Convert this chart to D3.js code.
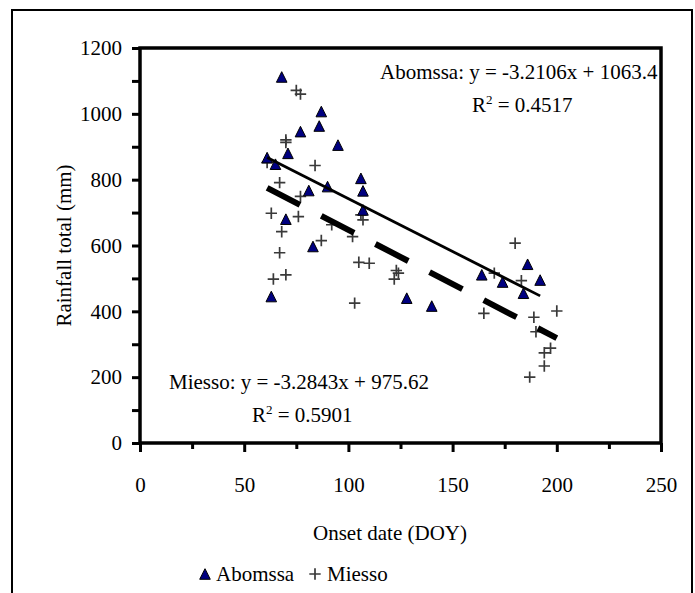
<!DOCTYPE html>
<html>
<head>
<meta charset="utf-8">
<script src="https://cdn.jsdelivr.net/npm/d3@7"></script>
<style>
  body { margin: 0; background: #fff; }
  svg { display: block; }
  text { font-family: "Liberation Serif", "Times New Roman", serif; fill: #000; }
</style>
</head>
<body>
<svg id="chart" width="695" height="593"></svg>
<script>
// Onset date (day of year) vs. seasonal rainfall total, two stations
const abomssaDoy  = [68, 87, 86, 77, 95, 71, 61, 65, 106, 90, 81, 107, 107, 70, 83, 63, 128, 140, 164, 186, 174, 184, 192];
const abomssaRain = [1112, 1007, 963, 946, 905, 880, 867, 847, 804, 779, 767, 766, 708, 680, 597, 445, 440, 416, 511, 543, 489, 455, 495];

const miessoDoy  = [75, 77, 70, 70, 61, 84, 67, 77, 63, 76, 68, 67, 87, 64, 70, 106, 107, 92, 102, 105, 110, 123, 124, 122, 103, 170, 165, 180, 183, 189, 200, 190, 197, 194, 194, 187];
const miessoRain = [1071, 1060, 921, 913, 852, 843, 791, 749, 698, 688, 642, 578, 615, 498, 511, 693, 678, 663, 627, 549, 546, 524, 516, 498, 425, 516, 394, 607, 493, 382, 401, 338, 288, 274, 234, 200];

// Linear fits (slope, intercept, R²)
const abomssaFit = [-3.2106, 1063.4, 0.4517];
const miessoFit  = [-3.2843, 975.62, 0.5901];

const xTickValues = [0, 25, 50, 75, 100, 125, 150, 175, 200, 225, 250];
const yTickValues = [0, 100, 200, 300, 400, 500, 600, 700, 800, 900, 1000, 1100, 1200];

const svg = d3.select("#chart");
const x = d3.scaleLinear().domain([0, 250]).range([140, 661]);
const y = d3.scaleLinear().domain([0, 1200]).range([443, 48]);

// chart-area border
svg.append("rect")
  .attr("x", 12).attr("y", 10).attr("width", 680).attr("height", 640)
  .attr("fill", "none").attr("stroke", "#000").attr("stroke-width", 2);

// x axis
const gx = svg.append("g").attr("transform", `translate(0,${y(0)})`)
  .call(d3.axisBottom(x).tickValues(xTickValues)
    .tickFormat(d => d % 50 === 0 ? d : "")
    .tickSize(9).tickPadding(25));
gx.select(".domain").remove();
gx.selectAll(".tick line").attr("stroke-width", 3)
  .attr("y2", d => d % 50 === 0 ? 9 : 6);
gx.selectAll(".tick text").style("font-size", "21px");

// y axis
const gy = svg.append("g").attr("transform", `translate(${x(0)},0)`)
  .call(d3.axisLeft(y).tickValues(yTickValues)
    .tickFormat(d => d % 200 === 0 ? d : "")
    .tickSize(8).tickPadding(10));
gy.select(".domain").remove();
gy.selectAll(".tick line").attr("stroke-width", 3);
gy.selectAll(".tick text").style("font-size", "21px");

// plot frame
svg.append("rect")
  .attr("x", x(0)).attr("y", y(1200))
  .attr("width", x(250) - x(0)).attr("height", y(0) - y(1200))
  .attr("fill", "none").attr("stroke", "#000").attr("stroke-width", 3.5);

// axis titles
svg.append("text")
  .attr("x", 390).attr("y", 533)
  .attr("text-anchor", "middle").attr("dominant-baseline", "central")
  .style("font-size", "21px").text("Onset date (DOY)");

svg.append("text")
  .attr("transform", `translate(64,${(y(0) + y(1200)) / 2}) rotate(-90)`)
  .attr("text-anchor", "middle").attr("dominant-baseline", "central")
  .style("font-size", "21px").text("Rainfall total (mm)");

// marker shapes
const triangleType = {
  draw(ctx, size) {
    const r = Math.sqrt(size) / 2;
    ctx.moveTo(0, -r); ctx.lineTo(r, r); ctx.lineTo(-r, r); ctx.closePath();
  }
};
const plusType = {
  draw(ctx, size) {
    const r = Math.sqrt(size) / 2;
    ctx.moveTo(-r, 0); ctx.lineTo(r, 0); ctx.moveTo(0, -r); ctx.lineTo(0, r);
  }
};
const triPath = d3.symbol().type(triangleType).size(112)();
const plusPath = d3.symbol().type(plusType).size(130)();

// trend lines over each station's observed range
function fitLine(doy, fit) {
  const [x0, x1] = d3.extent(doy);
  return [[x0, fit[0] * x0 + fit[1]], [x1, fit[0] * x1 + fit[1]]];
}
const line = d3.line().x(d => x(d[0])).y(d => y(d[1]));

// Miesso points
svg.append("g").selectAll("path")
  .data(miessoDoy.map((d, i) => [d, miessoRain[i]]))
  .join("path")
  .attr("d", plusPath)
  .attr("transform", d => `translate(${x(d[0])},${y(d[1])})`)
  .attr("fill", "none").attr("stroke", "#3a3a3a").attr("stroke-width", 1.7);

// Abomssa points
svg.append("g").selectAll("path")
  .data(abomssaDoy.map((d, i) => [d, abomssaRain[i]]))
  .join("path")
  .attr("d", triPath)
  .attr("transform", d => `translate(${x(d[0])},${y(d[1])})`)
  .attr("fill", "#000080").attr("stroke", "#000").attr("stroke-width", 1);

svg.append("path")
  .attr("d", line(fitLine(abomssaDoy, abomssaFit)))
  .attr("fill", "none").attr("stroke", "#000").attr("stroke-width", 2.8);

svg.append("path")
  .attr("d", line(fitLine(miessoDoy, miessoFit)))
  .attr("fill", "none").attr("stroke", "#000").attr("stroke-width", 6)
  .attr("stroke-dasharray", "37,24");

// equation labels
function equation(label, fit, ex, ey, rx, ry) {
  svg.append("text").attr("x", ex).attr("y", ey).style("font-size", "21px")
    .text(`${label}: y = ${fit[0]}x + ${fit[1]}`);
  const t = svg.append("text").attr("x", rx).attr("y", ry).style("font-size", "21px");
  t.append("tspan").text("R");
  t.append("tspan").attr("dy", -8).style("font-size", "13px").text("2");
  t.append("tspan").attr("dy", 8).text(` = ${fit[2]}`);
}
equation("Abomssa", abomssaFit, 380, 79, 472, 112);
equation("Miesso", miessoFit, 169, 389, 252, 422);

// legend
const legend = svg.append("g").attr("transform", "translate(0,574)");
legend.append("path").attr("d", triPath).attr("transform", "translate(205,0)")
  .attr("fill", "#000080").attr("stroke", "#000").attr("stroke-width", 1);
legend.append("text").attr("x", 216).attr("dominant-baseline", "central")
  .style("font-size", "21px").text("Abomssa");
legend.append("path").attr("d", plusPath).attr("transform", "translate(315,0)")
  .attr("fill", "none").attr("stroke", "#3a3a3a").attr("stroke-width", 1.7);
legend.append("text").attr("x", 327).attr("dominant-baseline", "central")
  .style("font-size", "21px").text("Miesso");
</script>
</body>
</html>
